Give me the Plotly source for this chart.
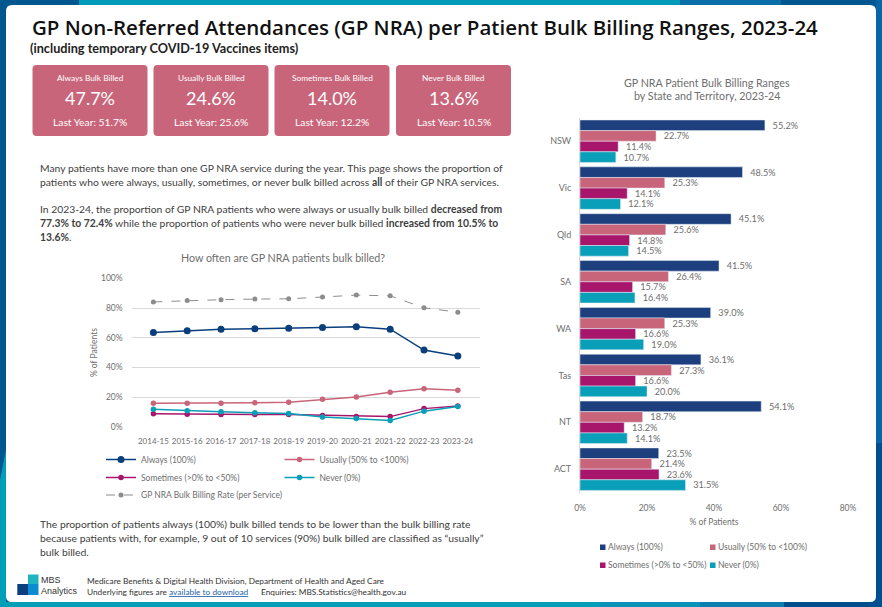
"""
GP NRA bulk billing page: line chart of ranges over time, bars by state,
plus the KPI cards and text that sit around them.
Everything is placed in pixels of the 882x607 page.
"""

import plotly.graph_objects as go

WIDTH = 882
HEIGHT = 607

# line chart data
years = ["2014-15", "2015-16", "2016-17", "2017-18", "2018-19",
         "2019-20", "2020-21", "2021-22", "2022-23", "2023-24"]
always_trend = [63.6, 64.8, 65.7, 66.1, 66.4, 67.0, 67.5, 65.8, 51.7, 47.7]
usually_trend = [15.9, 15.9, 15.9, 16.2, 16.5, 18.5, 20.0, 23.3, 25.6, 24.6]
sometimes_trend = [8.7, 8.4, 8.2, 8.2, 8.2, 7.6, 6.9, 6.8, 12.2, 14.0]
never_trend = [11.8, 10.8, 10.1, 9.4, 8.9, 6.6, 5.6, 4.2, 10.5, 13.6]
rate_trend = [84.2, 85.1, 85.7, 86.1, 86.3, 87.5, 88.8, 88.3, 80.2, 77.3]
trend_ticks = [0, 20, 40, 60, 80, 100]
trend_tick_labels = ["0%", "20%", "40%", "60%", "80%", "100%"]

# bar chart data
states = ["NSW", "Vic", "Qld", "SA", "WA", "Tas", "NT", "ACT"]
always_state = [55.2, 48.5, 45.1, 41.5, 39.0, 36.1, 54.1, 23.5]
usually_state = [22.7, 25.3, 25.6, 26.4, 25.3, 27.3, 18.7, 21.4]
sometimes_state = [11.4, 14.1, 14.8, 15.7, 16.6, 16.6, 13.2, 23.6]
never_state = [10.7, 12.1, 14.5, 16.4, 19.0, 20.0, 14.1, 31.5]
state_ticks = [0, 20, 40, 60, 80]
state_tick_labels = ["0%", "20%", "40%", "60%", "80%"]

# KPI cards
card_titles = ["Always Bulk Billed", "Usually Bulk Billed",
               "Sometimes Bulk Billed", "Never Bulk Billed"]
card_values = ["47.7%", "24.6%", "14.0%", "13.6%"]
card_last = ["Last Year: 51.7%", "Last Year: 25.6%",
             "Last Year: 12.2%", "Last Year: 10.5%"]

NAVY = "#0B3F7C"
NAVY_BAR = "#1D3F7E"
PINK = "#C9657A"
MAGENTA = "#A8166C"
TEAL = "#0A9FB8"
GREY = "#8C8C8C"
TEXT = "#404040"
AXIS_TEXT = "#6E6E6E"
FONT = "Lato"


def px_x(x):
    return x / WIDTH


def px_y(y):
    return 1 - y / HEIGHT


def rect(x0, y0, x1, y1, color):
    return dict(type="rect", xref="paper", yref="paper", layer="below",
                x0=px_x(x0), x1=px_x(x1), y0=px_y(y0), y1=px_y(y1),
                fillcolor=color, line_width=0)


def polygon(points, color):
    path = "M" + " L".join(f"{px_x(x)},{px_y(y)}" for x, y in points) + " Z"
    return dict(type="path", xref="paper", yref="paper", layer="below",
                path=path, fillcolor=color, line_width=0)


def round_rect(x0, y0, x1, y1, r, color):
    # rounded box as svg path with quadratic corners
    xa, xb, ya, yb = px_x(x0), px_x(x1), px_y(y0), px_y(y1)
    rx, ry = r / WIDTH, r / HEIGHT
    path = (f"M{xa + rx},{ya} L{xb - rx},{ya} Q{xb},{ya} {xb},{ya - ry} "
            f"L{xb},{yb + ry} Q{xb},{yb} {xb - rx},{yb} "
            f"L{xa + rx},{yb} Q{xa},{yb} {xa},{yb + ry} "
            f"L{xa},{ya - ry} Q{xa},{ya} {xa + rx},{ya} Z")
    return dict(type="path", xref="paper", yref="paper", layer="below",
                path=path, fillcolor=color, line_width=0)


def text(x, y, s, size=11, color=TEXT, anchor="left", family=FONT, weight=None):
    font = dict(size=size, color=color, family=family)
    if weight:
        font["weight"] = weight
    return dict(xref="paper", yref="paper", x=px_x(x), y=px_y(y), text=s,
                showarrow=False, xanchor=anchor, yanchor="middle", font=font,
                borderpad=0, borderwidth=0)


fig = go.Figure()

# line chart traces, each one has its own legend so the rows sit where they should
line_series = [
    ("Always (100%)", always_trend, NAVY, "solid", 7, 1.5, "legend"),
    ("Usually (50% to <100%)", usually_trend, PINK, "solid", 5.5, 1.5, "legend2"),
    ("Sometimes (>0% to <50%)", sometimes_trend, MAGENTA, "solid", 5.5, 1.5, "legend3"),
    ("Never (0%)", never_trend, TEAL, "solid", 5.5, 1.5, "legend4"),
    ("GP NRA Bulk Billing Rate (per Service)", rate_trend, GREY, "dash", 5, 1, "legend5"),
]
for name, values, color, dash, size, width, legend in line_series:
    fig.add_trace(go.Scatter(
        x=years, y=values, name=name, mode="lines+markers",
        line=dict(color=color, width=width, dash=dash),
        marker=dict(color=color, size=size),
        xaxis="x", yaxis="y", legend=legend,
    ))

bar_series = [
    ("Always (100%)", always_state, NAVY_BAR),
    ("Usually (50% to <100%)", usually_state, PINK),
    ("Sometimes (>0% to <50%)", sometimes_state, MAGENTA),
    ("Never (0%)", never_state, TEAL),
]
for name, values, color in bar_series:
    fig.add_trace(go.Bar(
        x=values, y=states, name=name, orientation="h",
        marker_color=color, showlegend=False,
        text=[f"  {v:.1f}%" for v in values], textposition="outside",
        textfont=dict(size=9.5, color=AXIS_TEXT, family=FONT),
        cliponaxis=False, xaxis="x2", yaxis="y2",
    ))

shapes = [
    # page frame
    rect(0, 0, 882, 607, "#00568F"),
    rect(0, 0, 882, 6, "#009BB8"),
    rect(0, 0, 79, 6, "#00568F"),
    rect(680, 0, 882, 6, "#0A6FA8"),
    rect(781, 0, 882, 6, "#00568F"),
    polygon([(6, 450), (6, 607), (0, 607), (0, 480)], "#009FB8"),
    rect(0, 602, 882, 607, "#009FB8"),
    rect(600, 602, 700, 607, "#0A93B8"),
    rect(700, 602, 784, 607, "#0A7FB0"),
    rect(784, 602, 882, 607, "#00508F"),
    rect(876, 0, 882, 443, "#0A64A8"),
    rect(876, 443, 882, 607, "#00508F"),
    round_rect(6, 5, 876, 602, 6, "white"),
    # logo
    rect(17.3, 584, 28, 595, "#0B3F80"),
    rect(28, 584, 38.5, 595, "#0A8CD0"),
    rect(28, 574.5, 38.5, 584, "#1FB5C0"),
]
annotations = [
    text(31.5, 27, "GP Non-Referred Attendances (GP NRA) per Patient Bulk Billing Ranges, 2023-24",
         size=20.5, color="#111111", family="Open Sans", weight=600),
    text(30, 47.5, "<b>(including temporary COVID-19 Vaccines items)</b>", size=12.7,
         color="#222222"),
]

# KPI cards
card_lefts = [32.5, 153.5, 274.5, 396]
for i, left in enumerate(card_lefts):
    shapes.append(round_rect(left, 65, left + 115, 136, 4, "#C9657A"))
    mid = left + 57.5
    annotations.append(text(mid, 78, card_titles[i], size=8.3, color="white", anchor="center"))
    annotations.append(text(mid, 97.5, card_values[i], size=18, color="white", anchor="center"))
    annotations.append(text(mid, 122, card_last[i], size=10.3, color="white", anchor="center"))

paragraphs = [
    (168, "Many patients have more than one GP NRA service during the year. This page shows the proportion of"),
    (182, "patients who were always, usually, sometimes, or never bulk billed across <b>all</b> of their GP NRA services."),
    (209, "In 2023-24, the proportion of GP NRA patients who were always or usually bulk billed <b>decreased from</b>"),
    (223, "<b>77.3% to 72.4%</b> while the proportion of patients who were never bulk billed <b>increased from 10.5% to</b>"),
    (237, "<b>13.6%</b>."),
    (524, "The proportion of patients always (100%) bulk billed tends to be lower than the bulk billing rate"),
    (538, "because patients with, for example, 9 out of 10 services (90%) bulk billed are classified as “usually”"),
    (552, "bulk billed."),
]
for y, s in paragraphs:
    annotations.append(text(40, y, s, size=10.35))

annotations += [
    text(283, 257, "How often are GP NRA patients bulk billed?", size=10.7, color=AXIS_TEXT, anchor="center"),
    text(707, 82, "GP NRA Patient Bulk Billing Ranges", size=10.7, color=AXIS_TEXT, anchor="center"),
    text(707, 95.5, "by State and Territory, 2023-24", size=10.7, color=AXIS_TEXT, anchor="center"),
    text(41, 580, "MBS", size=9, color="#333333", family="Liberation Sans"),
    text(41, 590.5, "Analytics", size=9, color="#333333", family="Liberation Sans"),
    text(87, 581, "Medicare Benefits &amp; Digital Health Division, Department of Health and Aged Care",
         size=8.3, color="#333333"),
    text(87, 592, 'Underlying figures are <a href="#" style="color:#1F5FA8"><u>available to download</u></a>'
                  "      Enquiries: MBS.Statistics@health.gov.au",
         size=8.3, color="#333333"),
]

# bar chart legend: small squares next to the labels
bar_legend = [
    (600, 547, "Always (100%)", NAVY_BAR),
    (710, 547, "Usually (50% to <100%)", PINK),
    (600, 565, "Sometimes (>0% to <50%)", MAGENTA),
    (710, 565, "Never (0%)", TEAL),
]
for x, y, name, color in bar_legend:
    shapes.append(rect(x, y - 2.5, x + 5.5, y + 3, color))
    annotations.append(text(x + 8, y, name.replace("<", "&lt;"), size=8.5, color=AXIS_TEXT))


def legend_at(x, y):
    return dict(x=px_x(x), y=px_y(y), xanchor="left", yanchor="middle",
                bgcolor="rgba(0,0,0,0)", font=dict(size=8.5, color=AXIS_TEXT, family=FONT))


fig.update_layout(
    width=WIDTH, height=HEIGHT,
    margin=dict(l=0, r=0, t=0, b=0, autoexpand=False),
    paper_bgcolor="#00568F", plot_bgcolor="rgba(0,0,0,0)",
    font=dict(family=FONT, color=AXIS_TEXT),
    barmode="group", bargap=0.094, bargroupgap=0,
    shapes=shapes, annotations=annotations,
    legend=legend_at(101, 459.5),
    legend2=legend_at(279.5, 459.5),
    legend3=legend_at(101, 477.5),
    legend4=legend_at(279.5, 477.5),
    legend5=legend_at(101, 495),
    xaxis=dict(domain=[px_x(131.6), px_x(479.6)], anchor="y", showgrid=False,
               tickfont=dict(size=8, color=AXIS_TEXT), ticks="", showline=False,
               tickangle=0, ticklabelstandoff=8, automargin=False),
    yaxis=dict(domain=[px_y(426.7), px_y(278.5)], anchor="x", range=[0, 100],
               tickvals=trend_ticks, ticktext=trend_tick_labels, automargin=False,
               tickfont=dict(size=8.5, color=AXIS_TEXT), gridcolor="#D9D9D9",
               gridwidth=1, zeroline=False, ticklabelstandoff=8,
               title=dict(text="% of Patients", font=dict(size=8.5, color=AXIS_TEXT), standoff=2)),
    xaxis2=dict(domain=[px_x(580), px_x(848)], anchor="y2", range=[0, 80],
                tickvals=state_ticks, ticktext=state_tick_labels, showgrid=False,
                zeroline=False, tickfont=dict(size=8.5, color=AXIS_TEXT), ticklabelstandoff=9,
                automargin=False,
                title=dict(text="% of Patients", font=dict(size=8.5, color=AXIS_TEXT), standoff=6)),
    yaxis2=dict(domain=[px_y(492.6), px_y(117.8)], anchor="x2", autorange="reversed",
                showgrid=False, showline=True, linecolor="#D9D9D9", ticks="",
                tickfont=dict(size=9, color=AXIS_TEXT), ticklabelstandoff=6, automargin=False),
)

# no page margin and no toolbar, the figure fills the browser window
fig.write_html("out.html", config={"displayModeBar": False},
               post_script="document.body.style.margin='0';")
